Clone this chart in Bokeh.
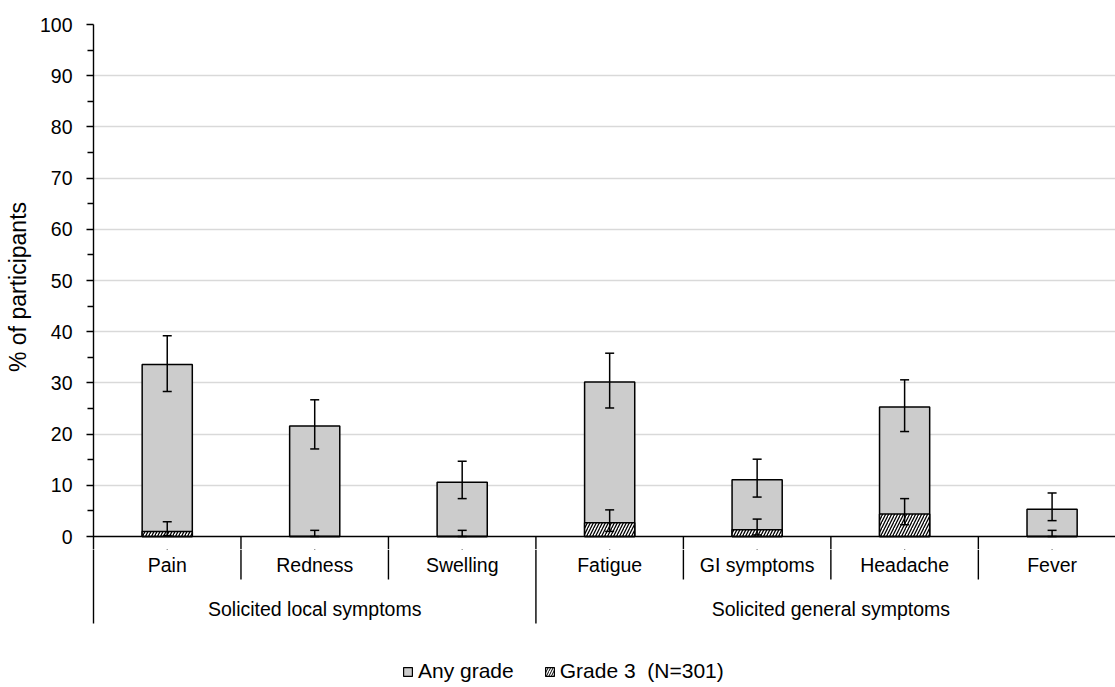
from bokeh.plotting import figure
from bokeh.layouts import column
from bokeh.models import (ColumnDataSource, Range1d, FixedTicker, Whisker, TeeHead,
                          Legend, LegendItem)
from bokeh.core.properties import value
from bokeh.embed import file_html
from bokeh.resources import INLINE

# ---- data ----
categories = ["Pain", "Redness", "Swelling", "Fatigue", "GI symptoms", "Headache", "Fever"]
groups = ["Solicited local symptoms", "Solicited general symptoms"]
group_sizes = [3, 4]

any_grade = [33.6, 21.6, 10.6, 30.2, 11.1, 25.3, 5.3]
any_lower = [28.3, 17.1, 7.4, 25.1, 7.7, 20.5, 3.1]
any_upper = [39.2, 26.7, 14.7, 35.8, 15.1, 30.6, 8.5]

grade3 = [1.0, 0.0, 0.0, 2.7, 1.3, 4.4, 0.0]
grade3_lower = [0.2, 0.0, 0.0, 1.0, 0.3, 2.3, 0.0]
grade3_upper = [2.9, 1.2, 1.2, 5.2, 3.4, 7.4, 1.2]

y_ticks = list(range(0, 101, 10))
y_minor = list(range(5, 100, 10))
legend_labels = ["Any grade", "Grade 3  (N=301)"]
y_label = "% of participants"

FONT = "Liberation Sans"
FS = "19.5px"
BAR_FILL = "#cccccc"

n = len(categories)
xs = [i + 0.5 for i in range(n)]
bounds = [0]
for s in group_sizes:
    bounds.append(bounds[-1] + s)
inner = [i for i in range(1, n) if i not in bounds]
outer = bounds[1:]

Y_SPLIT = -2.539
X_END = 6.93

# ---------------- top figure: bars ----------------
p = figure(width=1115, height=549, output_backend="svg", toolbar_location=None,
           x_range=Range1d(0, X_END), y_range=Range1d(Y_SPLIT, 100),
           x_axis_location=None, min_border_left=93, min_border_top=24,
           min_border_right=0, min_border_bottom=0)
p.outline_line_color = None

p.xgrid.visible = False
p.ygrid.ticker = FixedTicker(ticks=y_ticks[1:])
p.ygrid.grid_line_color = "#d9d9d9"
p.ygrid.grid_line_width = 1.6

ax = p.yaxis[0]
ax.ticker = FixedTicker(ticks=y_ticks, minor_ticks=y_minor)
ax.axis_line_color = "black"
ax.axis_line_width = 1.4
ax.major_tick_in = 0
ax.major_tick_out = 7
ax.minor_tick_in = 0
ax.minor_tick_out = 6
ax.major_tick_line_color = "black"
ax.minor_tick_line_color = "black"
ax.major_tick_line_width = 1.3
ax.minor_tick_line_width = 1.3
ax.major_label_text_font = FONT
ax.major_label_text_font_size = FS
ax.major_label_text_color = "black"
ax.major_label_standoff = 14
ax.axis_label = y_label
ax.axis_label_text_font = FONT
ax.axis_label_text_font_size = "23px"
ax.axis_label_text_font_style = "normal"
ax.axis_label_text_color = "black"
ax.axis_label_standoff = 6

src = ColumnDataSource(dict(x=xs, top=any_grade, lo=any_lower, hi=any_upper,
                            g3=grade3, g3lo=grade3_lower, g3hi=grade3_upper))
p.vbar(x="x", top="top", bottom=0, width=0.34, source=src,
       fill_color=BAR_FILL, line_color="black", line_width=1.5)
p.vbar(x="x", top="g3", bottom=0, width=0.34, source=src,
       fill_color="white", line_color="black", line_width=1.5,
       hatch_pattern="/", hatch_color="black", hatch_scale=6, hatch_weight=1.3)

for lo, hi in (("lo", "hi"), ("g3lo", "g3hi")):
    w = Whisker(source=src, base="x", lower=lo, upper=hi, line_color="black", line_width=1.5,
                level="overlay",
                upper_head=TeeHead(size=9, line_color="black", line_width=1.5),
                lower_head=TeeHead(size=9, line_color="black", line_width=1.5))
    p.add_layout(w)

p.segment(x0=[0], y0=[0], x1=[n], y1=[0], line_color="black", line_width=1.5)
p.segment(x0=inner + outer, y0=[0] * (len(inner) + len(outer)),
          x1=inner + outer, y1=[Y_SPLIT] * (len(inner) + len(outer)),
          line_color="black", line_width=1.4)

# ---------------- bottom figure: category labels + legend ----------------
q = figure(width=1115, height=138, output_backend="svg", toolbar_location=None,
           x_range=p.x_range, y_range=Range1d(-29.49, Y_SPLIT),
           x_axis_location=None,
           min_border_left=93, min_border_top=0, min_border_right=0, min_border_bottom=0)
q.outline_line_color = None
q.grid.visible = False
qa = q.yaxis[0]
qa.bounds = (-17.0, Y_SPLIT)
qa.ticker = FixedTicker(ticks=[])
qa.axis_line_color = "black"
qa.axis_line_width = 1.4
qa.major_tick_line_color = None
qa.minor_tick_line_color = None
qa.major_label_text_font_size = "0px"

q.segment(x0=inner, y0=[Y_SPLIT] * len(inner), x1=inner, y1=[-8.4] * len(inner),
          line_color="black", line_width=1.4)
q.segment(x0=outer, y0=[Y_SPLIT] * len(outer), x1=outer, y1=[-17.0] * len(outer),
          line_color="black", line_width=1.4)

q.text(x=xs, y=[-5.66] * n, text=categories, text_align="center", text_baseline="middle",
       text_font=value(FONT), text_font_size=FS, text_color="black")
gx = [(bounds[i] + bounds[i + 1]) / 2 for i in range(len(groups))]
q.text(x=gx, y=[-14.2] * len(groups), text=groups, text_align="center", text_baseline="middle",
       text_font=value(FONT), text_font_size=FS, text_color="black")

# legend proxies: zero-width copies of the bars (nothing visible in this panel)
l_any = q.vbar(x="x", top="top", bottom=0, width=0, source=src,
               fill_color=BAR_FILL, line_color="black", line_width=1.2)
l_g3 = q.vbar(x="x", top="g3", bottom=0, width=0, source=src,
              fill_color="white", line_color="black", line_width=1.2,
              hatch_pattern="/", hatch_color="black", hatch_scale=5, hatch_weight=1.0)
legend = Legend(items=[LegendItem(label=legend_labels[0], renderers=[l_any]),
                       LegendItem(label=legend_labels[1], renderers=[l_g3])],
                orientation="horizontal", location=(309, 4),
                glyph_width=11, glyph_height=11, label_standoff=5, spacing=30,
                padding=0, margin=0, border_line_color=None, background_fill_alpha=0,
                label_text_font=FONT, label_text_font_size="21px", label_text_color="black")
q.add_layout(legend)

layout = column(p, q, spacing=0)
open("out.html", "w").write(file_html(layout, INLINE))
